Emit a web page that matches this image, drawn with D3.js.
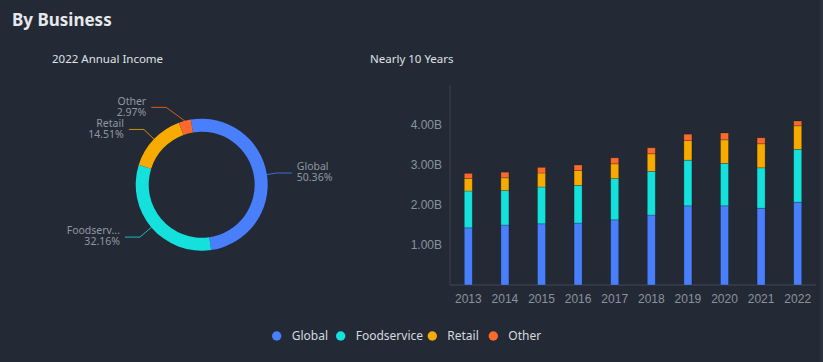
<!DOCTYPE html>
<html>
<head>
<meta charset="utf-8">
<script src="https://cdn.jsdelivr.net/npm/d3@7"></script>
<style>
  body { margin: 0; background: #232a35; }
  svg { display: block; font-family: "Noto Sans", "Open Sans", sans-serif; }
</style>
</head>
<body>
<div id="vis"></div>
<script>
// data
var years = ["2013", "2014", "2015", "2016", "2017", "2018", "2019", "2020", "2021", "2022"];
var series = ["Global", "Foodservice", "Retail", "Other"];
var global_v      = [1.43, 1.50, 1.53, 1.55, 1.63, 1.75, 1.98, 1.98, 1.92, 2.07];
var foodservice_v = [0.92, 0.86, 0.92, 0.94, 1.03, 1.09, 1.14, 1.06, 1.01, 1.32];
var retail_v      = [0.31, 0.32, 0.35, 0.37, 0.37, 0.44, 0.49, 0.59, 0.60, 0.59];
var other_v       = [0.13, 0.14, 0.14, 0.14, 0.15, 0.15, 0.16, 0.17, 0.15, 0.12];
var share2022 = [50.36, 32.16, 14.51, 2.97];
var pie_names = ["Global", "Foodserv...", "Retail", "Other"];
var y_ticks = [1, 2, 3, 4];

var colors = ["#497ffb", "#14e0dc", "#f7aa00", "#fb6a2c"];
var color = d3.scaleOrdinal().domain(series).range(colors);

var W = 823, H = 362;
var svg = d3.select("#vis").append("svg").attr("width", W).attr("height", H);

svg.append("rect").attr("width", W).attr("height", H).attr("fill", "#232a35");
svg.append("rect").attr("x", 820).attr("width", 3).attr("height", H).attr("fill", "#2b323d");

// titles
svg.append("text").attr("x", 12).attr("y", 26)
    .attr("fill", "#e6e8eb").style("font-size", "17px").style("font-weight", "bold")
    .text("By Business");
svg.append("text").attr("x", 52).attr("y", 63)
    .attr("fill", "#dfe2e6").style("font-size", "11.5px")
    .text("2022 Annual Income");
svg.append("text").attr("x", 370).attr("y", 63)
    .attr("fill", "#dfe2e6").style("font-size", "11.5px")
    .text("Nearly 10 Years");

// ---- donut ----
var cx = 201.7, cy = 184.7, r_out = 66, r_in = 53;
var rot = -9.5 * Math.PI / 180;
var pie = d3.pie().sort(null).value(function(d) { return d; })
    .startAngle(rot).endAngle(2 * Math.PI + rot);
var arc = d3.arc().innerRadius(r_in).outerRadius(r_out);
var arcs = pie(share2022);

var gPie = svg.append("g").attr("transform", "translate(" + cx + "," + cy + ")");
gPie.selectAll("path.slice").data(arcs).enter().append("path")
    .attr("class", "slice")
    .attr("d", arc)
    .attr("fill", function(d, i) { return colors[i]; });

// label lines, Other is pushed left to keep clear of Retail
var elbowShift = [0, 0, 0, -15];
var len1 = [10, 15, 14, 14], len2 = 15;
arcs.forEach(function(d, i) {
    var a = (d.startAngle + d.endAngle) / 2;
    var p0 = [r_out * Math.sin(a), -r_out * Math.cos(a)];
    var r1 = r_out + len1[i];
    var p1 = [r1 * Math.sin(a) + elbowShift[i], -r1 * Math.cos(a)];
    var right = Math.sin(a) > 0;
    var p2 = [p1[0] + (right ? len2 : -len2), p1[1]];
    gPie.append("polyline")
        .attr("points", [p0, p1, p2].map(function(p) { return p.join(","); }).join(" "))
        .attr("fill", "none").attr("stroke", colors[i]).attr("stroke-width", 1).attr("opacity", 0.8);
    var tx = p2[0] + (right ? 5 : -5);
    var t = gPie.append("text")
        .attr("y", p1[1])
        .attr("text-anchor", right ? "start" : "end")
        .attr("fill", "#9097a3").style("font-size", "10.5px");
    t.append("tspan").attr("x", tx).attr("dy", "-0.25em").text(pie_names[i]);
    t.append("tspan").attr("x", tx).attr("dy", "1.05em").text(share2022[i].toFixed(2) + "%");
});

// ---- stacked bars ----
var m = {left: 450, right: 5, top: 85, bottom: 77};
var bw = W - m.left - m.right, bh = H - m.top - m.bottom;
var g = svg.append("g").attr("transform", "translate(" + m.left + "," + m.top + ")");

var rows = years.map(function(y, i) {
    return {year: y, Global: global_v[i], Foodservice: foodservice_v[i], Retail: retail_v[i], Other: other_v[i]};
});
var stack = d3.stack().keys(series)(rows);

var x = d3.scaleBand().domain(years).range([0, bw - 2]);
var y = d3.scaleLinear().domain([0, 5]).range([bh, 0]);

g.append("line").attr("x1", 0).attr("x2", 0).attr("y1", 0).attr("y2", bh)
    .attr("stroke", "#36404d");
g.append("line").attr("x1", 0).attr("x2", bw - 2).attr("y1", bh).attr("y2", bh)
    .attr("stroke", "#3f4856");

var yAxis = g.append("g").call(d3.axisLeft(y).tickValues(y_ticks).tickSize(0).tickPadding(8)
    .tickFormat(function(d) { return d.toFixed(2) + "B"; }));
yAxis.select(".domain").remove();
yAxis.selectAll("text").attr("fill", "#8b929e").style("font-size", "12px").style("font-family", null);

var xAxis = g.append("g").attr("transform", "translate(0," + bh + ")")
    .call(d3.axisBottom(x).tickSize(0).tickPadding(9));
xAxis.select(".domain").remove();
xAxis.selectAll("text").attr("fill", "#8b929e").style("font-size", "12px").style("font-family", null);

var barW = 8;
stack.forEach(function(s, k) {
    g.selectAll(".bar" + k).data(s).enter().append("rect")
        .attr("x", function(d) { return x(d.data.year) + x.bandwidth() / 2 - barW / 2; })
        .attr("y", function(d) { return y(d[1]); })
        .attr("width", barW)
        .attr("height", function(d) { return y(d[0]) - y(d[1]); })
        .attr("fill", colors[k])
        .attr("stroke", "rgba(0,0,0,0.25)").attr("stroke-width", 0.8);
});

// ---- legend ----
var legX = [276.7, 340.7, 432.3, 493.3];
var legend = svg.selectAll(".legend").data(series).enter().append("g")
    .attr("class", "legend")
    .attr("transform", function(d, i) { return "translate(" + legX[i] + ",336)"; });
legend.append("circle").attr("r", 4.7).attr("fill", function(d) { return color(d); });
legend.append("text").attr("x", 15).attr("dy", "0.35em")
    .attr("fill", "#d5d9df").style("font-size", "12px")
    .text(function(d) { return d; });
</script>
</body>
</html>
